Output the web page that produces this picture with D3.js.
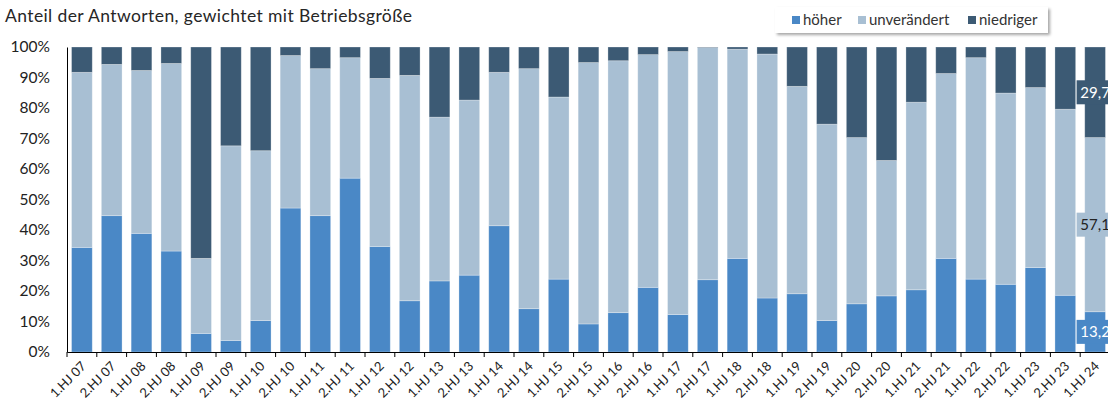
<!DOCTYPE html>
<html>
<head>
<meta charset="utf-8">
<script src="https://cdnjs.cloudflare.com/ajax/libs/d3/7.8.5/d3.min.js"></script>
<style>
  body { margin: 0; background: #fff; }
  text { font-family: Lato, "Open Sans", sans-serif; }
</style>
</head>
<body>
<div id="chart"></div>
<script>
// Kategorien (Halbjahre)
var categories = ["1.HJ 07","2.HJ 07","1.HJ 08","2.HJ 08","1.HJ 09","2.HJ 09","1.HJ 10","2.HJ 10",
    "1.HJ 11","2.HJ 11","1.HJ 12","2.HJ 12","1.HJ 13","2.HJ 13","1.HJ 14","2.HJ 14","1.HJ 15",
    "2.HJ 15","1.HJ 16","2.HJ 16","1.HJ 17","2.HJ 17","1.HJ 18","2.HJ 18","1.HJ 19","2.HJ 19",
    "1.HJ 20","2.HJ 20","1.HJ 21","2.HJ 21","1.HJ 22","2.HJ 22","1.HJ 23","2.HJ 23","1.HJ 24"];

// Anteile in Prozent
var hoeher = [34.3,44.7,38.9,33.1,6.1,3.8,10.3,47.2,44.7,57.0,34.6,16.8,23.3,25.2,41.4,14.2,23.9,
    9.2,12.9,21.2,12.3,23.7,30.7,17.7,19.1,10.3,15.8,18.4,20.4,30.7,23.9,22.2,27.7,18.6,13.2];
var unveraendert = [57.4,49.6,53.4,61.5,24.6,63.8,55.7,50.0,48.2,39.5,55.1,73.9,53.7,57.4,50.3,78.7,59.7,
    85.7,82.6,76.3,86.2,76.1,68.6,80.0,68.0,64.4,54.5,44.4,61.5,60.6,72.6,62.7,59.0,61.0,57.1];
var niedriger = [8.3,5.7,7.7,5.4,69.3,32.4,34.0,2.8,7.1,3.5,10.3,9.3,23.0,17.4,8.3,7.1,16.4,
    5.1,4.5,2.5,1.5,0.2,0.7,2.3,12.9,25.3,29.7,37.2,18.1,8.7,3.5,15.1,13.3,20.4,29.7];

var seriesNames = ["höher", "unverändert", "niedriger"];
var yTicks = [0, 10, 20, 30, 40, 50, 60, 70, 80, 90, 100];

var colors = {"höher": "#4a88c6", "unverändert": "#a8bfd3", "niedriger": "#3c5a74"};
var labelColors = {"höher": "#fff", "unverändert": "#222", "niedriger": "#fff"};

var width = 1108, height = 401;
var margin = {left: 67, top: 47, bottom: 49};

var svg = d3.select("#chart").append("svg")
    .attr("width", width)
    .attr("height", height);

// Tabelle für den Stack
var table = categories.map(function (c, i) {
    return {cat: c, "höher": hoeher[i], "unverändert": unveraendert[i], "niedriger": niedriger[i]};
});
var stacked = d3.stack().keys(seriesNames)(table);

var x = d3.scaleBand()
    .domain(categories)
    .range([margin.left, margin.left + 29.8 * categories.length])
    .paddingInner(0.305)
    .paddingOuter(0.1525);

var y = d3.scaleLinear()
    .domain([0, 100])
    .range([height - margin.bottom, margin.top]);

// Titel
svg.append("text")
    .attr("x", 5)
    .attr("y", 22)
    .style("font-size", "17.5px")
    .style("letter-spacing", "0.4px")
    .style("fill", "#262626")
    .text("Anteil der Antworten, gewichtet mit Betriebsgröße");

// Balken
var layer = svg.selectAll(".layer")
    .data(stacked)
    .enter().append("g")
    .attr("class", "layer")
    .style("fill", function (d) { return colors[d.key]; });

layer.selectAll("rect")
    .data(function (d) { return d; })
    .enter().append("rect")
    .attr("x", function (d) { return x(d.data.cat); })
    .attr("y", function (d) { return y(d[1]); })
    .attr("width", x.bandwidth())
    .attr("height", function (d) { return y(d[0]) - y(d[1]); })
    .style("stroke", "rgba(255,255,255,0.35)")
    .style("stroke-width", 0.8);

// Y-Achse
var yAxis = svg.append("g")
    .attr("transform", "translate(" + margin.left + ",0)")
    .call(d3.axisLeft(y).tickValues(yTicks).tickSize(0).tickPadding(17)
        .tickFormat(function (d) { return d + "%"; }));
yAxis.select(".domain").style("stroke", "#000");
yAxis.selectAll("text")
    .style("font-size", "15.5px")
    .style("font-family", "Lato, sans-serif")
    .style("fill", "#222");

// X-Achse
var xAxis = svg.append("g")
    .attr("transform", "translate(0," + y(0) + ")")
    .call(d3.axisBottom(x).tickSize(0).tickSizeOuter(0));
xAxis.select(".domain").style("stroke", "#000").style("stroke-width", 1.2);
xAxis.selectAll(".tick text")
    .style("font-size", "13px")
    .style("font-family", "Lato, sans-serif")
    .style("fill", "#222")
    .attr("text-anchor", "end")
    .attr("x", 0)
    .attr("y", 0)
    .attr("dy", 0)
    .attr("transform", "translate(5,15) rotate(-45)");

// Teilstriche an den Kategoriegrenzen
var gap = (x.step() - x.bandwidth()) / 2;
xAxis.selectAll(".boundary")
    .data(categories)
    .enter().append("line")
    .attr("class", "boundary")
    .attr("x1", function (d) { return x(d) - gap; })
    .attr("x2", function (d) { return x(d) - gap; })
    .attr("y1", 0)
    .attr("y2", 5)
    .style("stroke", "#000");

// Datenbeschriftung am letzten Balken
var last = categories[categories.length - 1];
stacked.forEach(function (s) {
    var d = s[s.length - 1];
    var cx = x(last) + x.bandwidth() / 2;
    var cy = (y(d[0]) + y(d[1])) / 2;
    var g = svg.append("g");
    g.append("rect")
        .attr("x", cx - 18.5)
        .attr("y", cy - 12)
        .attr("width", 37)
        .attr("height", 24)
        .style("fill", colors[s.key]);
    g.append("text")
        .attr("x", cx)
        .attr("y", cy)
        .attr("dy", "0.36em")
        .attr("text-anchor", "middle")
        .style("font-size", "15px")
        .style("fill", labelColors[s.key])
        .text(d3.format(".1f")(d.data[s.key]).replace(".", ","));
});

// Legende
var defs = svg.append("defs");
var f = defs.append("filter").attr("id", "shadow").attr("x", "-10%").attr("y", "-30%")
    .attr("width", "130%").attr("height", "180%");
f.append("feDropShadow").attr("dx", 2).attr("dy", 2).attr("stdDeviation", 1.5)
    .attr("flood-color", "#000").attr("flood-opacity", 0.35);

var legend = svg.append("g").attr("transform", "translate(775,7)");
legend.append("rect")
    .attr("width", 273)
    .attr("height", 26)
    .style("fill", "#fff")
    .attr("filter", "url(#shadow)");

var legendX = [17, 83, 193];
seriesNames.forEach(function (name, i) {
    legend.append("rect")
        .attr("x", legendX[i])
        .attr("y", 9)
        .attr("width", 8)
        .attr("height", 8)
        .style("fill", colors[name]);
    legend.append("text")
        .attr("x", legendX[i] + 11)
        .attr("y", 18)
        .style("font-size", "15px")
        .style("fill", "#333")
        .text(name);
});
</script>
</body>
</html>
